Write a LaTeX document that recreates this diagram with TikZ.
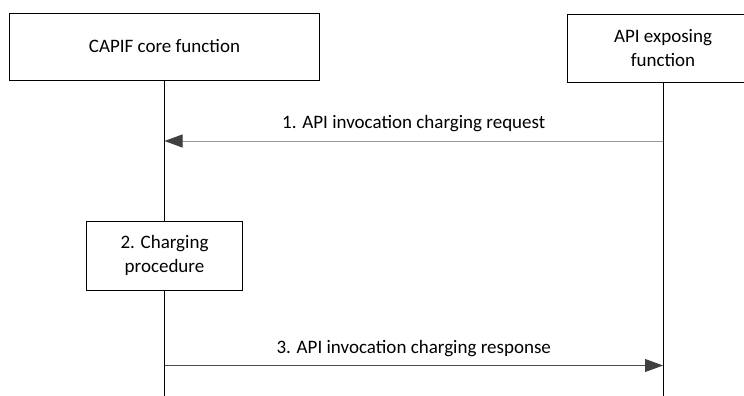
\documentclass[tikz,border=0pt]{standalone}
\usepackage{fontspec}
\setmainfont{Carlito}
\usetikzlibrary{arrows.meta,positioning}

\begin{document}
\begin{tikzpicture}[x=1pt,y=-1pt,line width=0.8pt]
  \tikzstyle{every node}=[font=\fontsize{19}{24}\selectfont]
  \tikzstyle{entity}=[draw,minimum height=67pt,align=center,line width=0.8pt]
  \tikzstyle{msg}=[-{Triangle[length=18pt,width=13pt,color=black!75]}]

  \useasboundingbox (0,0) rectangle (744,396);
  \node[entity,minimum width=310pt] (CCF) at (164.5,46.5) {CAPIF core function};
  \node[entity,minimum width=192pt,minimum height=68pt] (AEF) at (663,48) {API exposing\\function};
  \node[entity,minimum width=156pt,minimum height=69pt] (CP) at (164.5,255.5) {2. Charging\\procedure};
  \coordinate (CCFend) at (164.5,396);
  \coordinate (AEFend) at (663,396);
  \coordinate (req1) at (663,141);
  \coordinate (req2) at (164.5,141);
  \coordinate (rsp1) at (164.5,365.5);
  \coordinate (rsp2) at (663,365.5);

  \draw (CCF) -- (CP) -- (CCFend);
  \draw (AEF) -- (AEFend);
  \draw[msg,draw=black!40] (req1) -- (req2) node[midway,yshift=17pt] {1. API invocation charging request};
  \draw[msg,draw=black!70] (rsp1) -- (rsp2) node[midway,yshift=17pt] {3. API invocation charging response};
\end{tikzpicture}
\end{document}
